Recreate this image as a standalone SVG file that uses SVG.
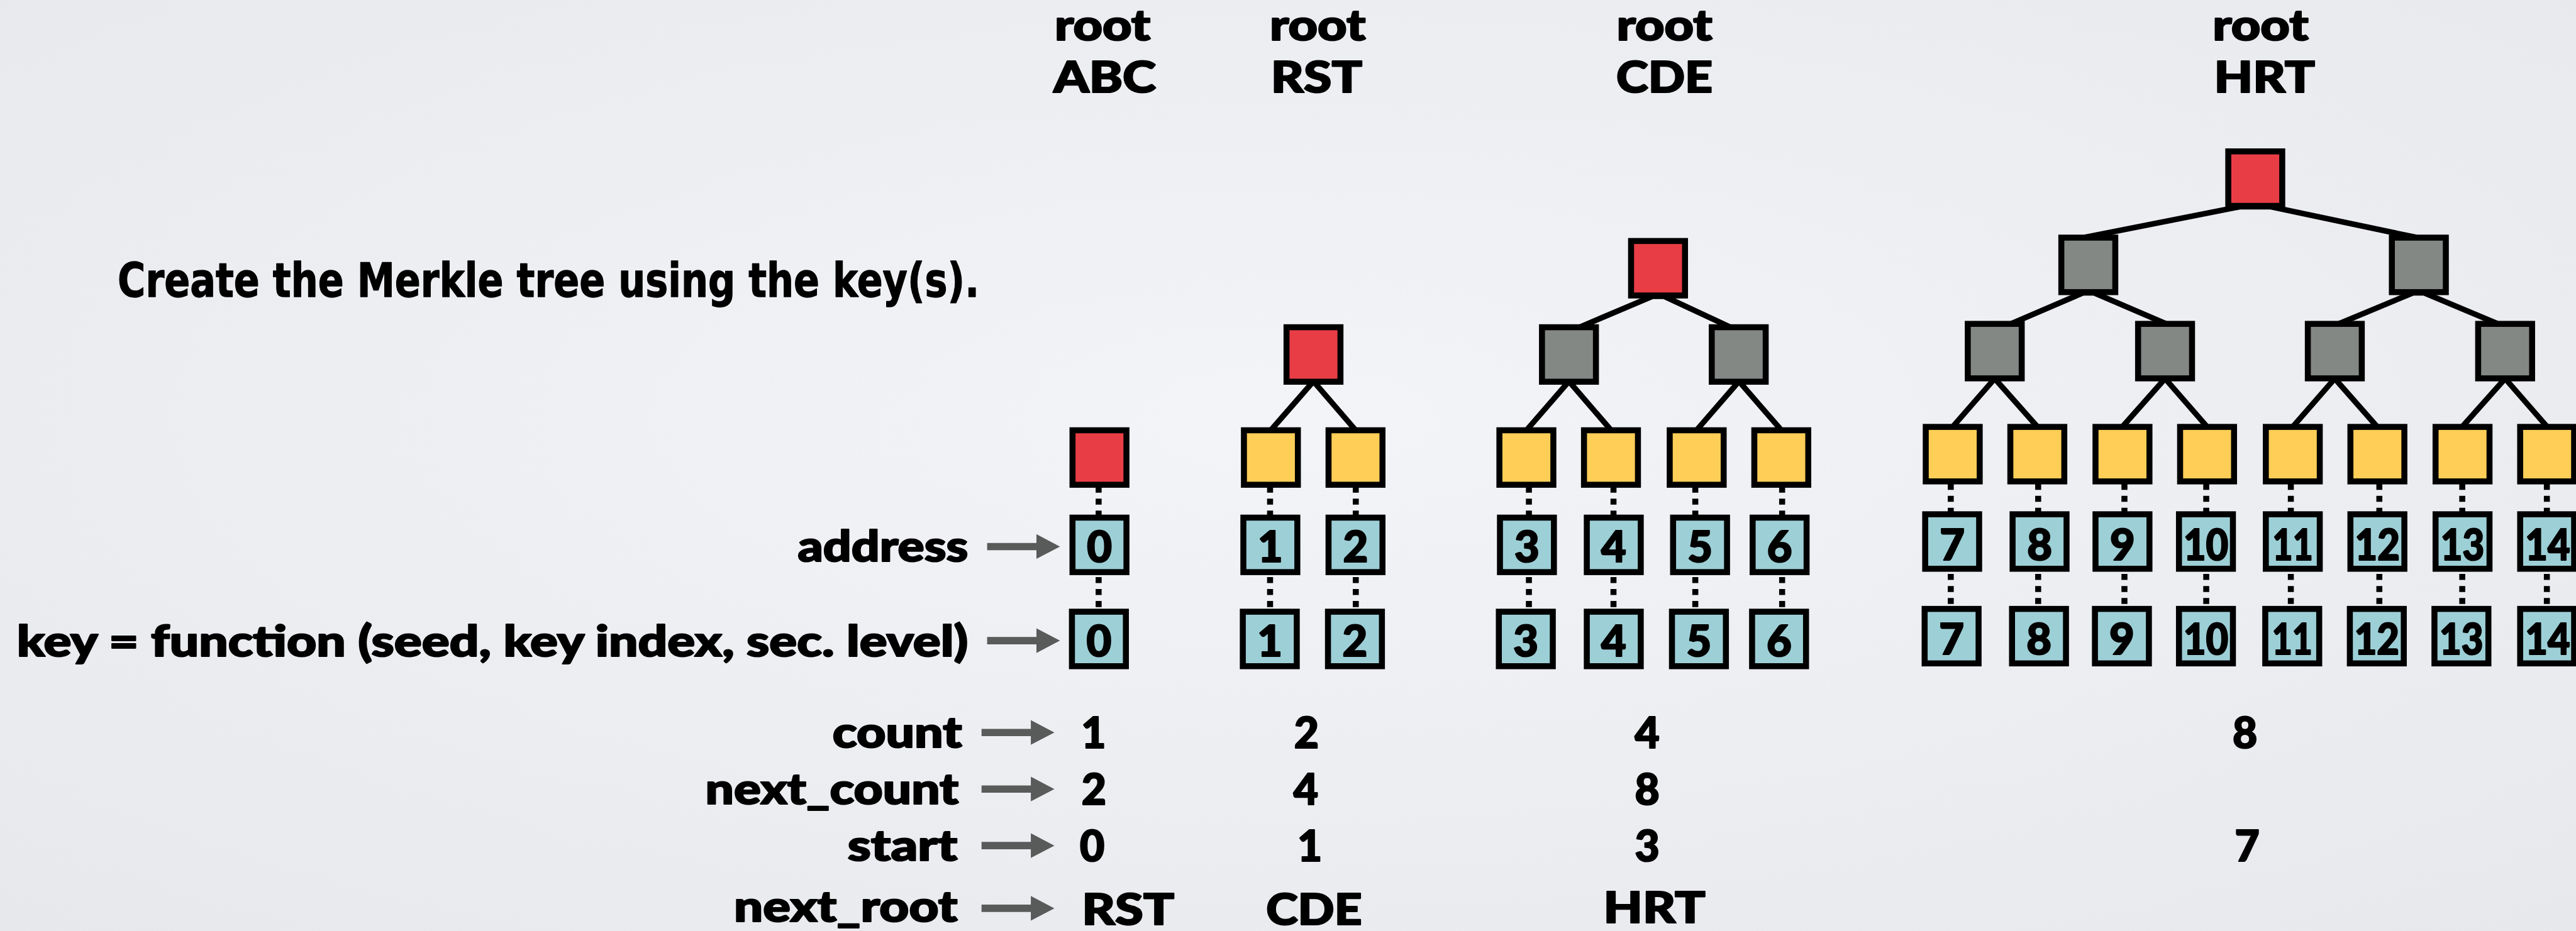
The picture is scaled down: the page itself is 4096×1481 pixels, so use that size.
<svg xmlns="http://www.w3.org/2000/svg" width="4096" height="1481" viewBox="0 0 4096 1481">
<defs>
  <radialGradient id="bg" cx="50%" cy="45%" r="75%">
    <stop offset="0" stop-color="#F3F4F7"/>
    <stop offset="1" stop-color="#E6E8EC"/>
  </radialGradient>
  <path id="arr" d="M0,-6.5 H88 V-22 L130,0 L88,22 V6.5 H0 Z" fill="#585B59"/>
  <style>
    .n{stroke:#000;stroke-width:10.7}
    .r{fill:#E93D45}
    .i{fill:#838885}
    .l{fill:#FFCE57}
    .b{fill:#9DCFD6}
    .e{fill:none;stroke:#000;stroke-width:10;stroke-linejoin:miter;stroke-miterlimit:10}
    .d{stroke:#000;stroke-width:10.7;stroke-dasharray:10.7 10.7}
    .t{font-family:Lato,"Open Sans",sans-serif;font-weight:900;fill:#000;stroke:#000;stroke-width:2.5;stroke-linejoin:round}
    .ti{font-size:76px}
    .lb{font-size:76px}
    .bx{font-size:77px;text-anchor:middle}
    .v{font-size:76px;text-anchor:middle}
    .hd{font-family:"DejaVu Sans",Verdana,sans-serif;font-weight:700;font-size:84px;fill:#000;stroke:#000;stroke-width:1.5;stroke-linejoin:round}
  </style>
</defs>
<rect width="4096" height="1481" fill="url(#bg)"/>
<g transform="scale(0.89082)">

  <!-- headings over each tree -->
  <g id="titles" class="t ti">
    <text x="1882.5" y="72" textLength="171" lengthAdjust="spacingAndGlyphs">root</text>
    <text x="1880.5" y="165" textLength="183" lengthAdjust="spacingAndGlyphs">ABC</text>
    <text x="2266.5" y="72" textLength="171" lengthAdjust="spacingAndGlyphs">root</text>
    <text x="2268.5" y="165" textLength="163" lengthAdjust="spacingAndGlyphs">RST</text>
    <text x="2885.5" y="72" textLength="171" lengthAdjust="spacingAndGlyphs">root</text>
    <text x="2885" y="165" textLength="172" lengthAdjust="spacingAndGlyphs">CDE</text>
    <text x="3949.5" y="72" textLength="171" lengthAdjust="spacingAndGlyphs">root</text>
    <text x="3952" y="165" textLength="180" lengthAdjust="spacingAndGlyphs">HRT</text>
  </g>

  <text id="caption" class="hd" x="210" y="530" textLength="1538" lengthAdjust="spacingAndGlyphs">Create the Merkle tree using the key(s).</text>

  <!-- tree edges, dotted leaf links and label arrows -->
  <g id="connectors">
    <polyline class="e" points="2268.5,768 2344.5,681 2419.5,768"/>
    <polyline class="e" points="2820,584 2950,529 2970,529 3088,584"/>
    <polyline class="e" points="2725,768 2800.5,681 2875.5,768"/>
    <polyline class="e" points="3028.5,768 3104,681 3179.5,768"/>
    <polyline class="e" points="3721,424 3999,369 4052,369 4313,424"/>
    <polyline class="e" points="3590,578 3718,523 3738,523 3866,578"/>
    <polyline class="e" points="4175,578 4307,523 4327,523 4458,578"/>
    <polyline class="e" points="3485.5,762 3560.5,676 3636.5,762"/>
    <polyline class="e" points="3788.5,762 3864.5,676 3939.5,762"/>
    <polyline class="e" points="4092.5,762 4167.5,676 4243,762"/>
    <polyline class="e" points="4395,762 4471.5,676 4546.5,762"/>

    <g class="d">
      <line x1="1961" y1="869" x2="1961" y2="922"/><line x1="1961" y1="1030.5" x2="1961" y2="1089"/>
      <line x1="2267" y1="869" x2="2267" y2="922"/><line x1="2267" y1="1030.5" x2="2267" y2="1089"/>
      <line x1="2420" y1="869" x2="2420" y2="922"/><line x1="2420" y1="1030.5" x2="2420" y2="1089"/>
      <line x1="2729" y1="869" x2="2729" y2="922"/><line x1="2729" y1="1030.5" x2="2729" y2="1089"/>
      <line x1="2880" y1="869" x2="2880" y2="922"/><line x1="2880" y1="1030.5" x2="2880" y2="1089"/>
      <line x1="3026" y1="869" x2="3026" y2="922"/><line x1="3026" y1="1030.5" x2="3026" y2="1089"/>
      <line x1="3181" y1="869" x2="3181" y2="922"/><line x1="3181" y1="1030.5" x2="3181" y2="1089"/>
      <line x1="3482" y1="864" x2="3482" y2="916"/><line x1="3482" y1="1025" x2="3482" y2="1084"/>
      <line x1="3638" y1="864" x2="3638" y2="916"/><line x1="3638" y1="1025" x2="3638" y2="1084"/>
      <line x1="3792" y1="864" x2="3792" y2="916"/><line x1="3792" y1="1025" x2="3792" y2="1084"/>
      <line x1="3938" y1="864" x2="3938" y2="916"/><line x1="3938" y1="1025" x2="3938" y2="1084"/>
      <line x1="4089" y1="864" x2="4089" y2="916"/><line x1="4089" y1="1025" x2="4089" y2="1084"/>
      <line x1="4247" y1="864" x2="4247" y2="916"/><line x1="4247" y1="1025" x2="4247" y2="1084"/>
      <line x1="4395" y1="864" x2="4395" y2="916"/><line x1="4395" y1="1025" x2="4395" y2="1084"/>
      <line x1="4546" y1="864" x2="4546" y2="916"/><line x1="4546" y1="1025" x2="4546" y2="1084"/>
    </g>

    <use href="#arr" x="1762" y="976"/>
    <use href="#arr" x="1762" y="1144"/>
    <use href="#arr" x="1752" y="1308"/>
    <use href="#arr" x="1752" y="1409"/>
    <use href="#arr" x="1752" y="1510"/>
    <use href="#arr" x="1752" y="1622"/>
  </g>

  <!-- tree ABC -->
  <g id="abc-root"><rect class="n r" x="1914.35" y="768.35" width="96.3" height="97.3"/></g>
  <g id="abc-addr-0"><rect class="n b" x="1914.35" y="924.35" width="96.3" height="97.3"/><text class="t bx" x="1962.5" y="1004">0</text></g>
  <g id="abc-key-0"><rect class="n b" x="1913.35" y="1092.35" width="96.3" height="97.3"/><text class="t bx" x="1961.5" y="1172">0</text></g>

  <!-- tree RST -->
  <g id="rst-root"><rect class="n r" x="2296.35" y="584.35" width="96.3" height="97.3"/></g>
  <g id="rst-leaf-1"><rect class="n l" x="2220.35" y="768.35" width="96.3" height="97.3"/></g>
  <g id="rst-leaf-2"><rect class="n l" x="2371.35" y="768.35" width="96.3" height="97.3"/></g>
  <g id="addr-1"><rect class="n b" x="2219.35" y="924.35" width="96.3" height="97.3"/><text class="t bx" x="2267.5" y="1004">1</text></g>
  <g id="addr-2"><rect class="n b" x="2371.35" y="924.35" width="96.3" height="97.3"/><text class="t bx" x="2419.5" y="1004">2</text></g>
  <g id="key-1"><rect class="n b" x="2218.35" y="1092.35" width="96.3" height="97.3"/><text class="t bx" x="2266.5" y="1172">1</text></g>
  <g id="key-2"><rect class="n b" x="2370.35" y="1092.35" width="96.3" height="97.3"/><text class="t bx" x="2418.5" y="1172">2</text></g>

  <!-- tree CDE -->
  <g id="cde-root"><rect class="n r" x="2911.35" y="430.35" width="96.3" height="97.3"/></g>
  <g id="cde-inner-1"><rect class="n i" x="2752.35" y="584.35" width="96.3" height="97.3"/></g>
  <g id="cde-inner-2"><rect class="n i" x="3055.35" y="584.35" width="96.3" height="97.3"/></g>
  <g id="cde-leaf-3"><rect class="n l" x="2676.35" y="768.35" width="96.3" height="97.3"/></g>
  <g id="cde-leaf-4"><rect class="n l" x="2827.35" y="768.35" width="96.3" height="97.3"/></g>
  <g id="cde-leaf-5"><rect class="n l" x="2980.35" y="768.35" width="96.3" height="97.3"/></g>
  <g id="cde-leaf-6"><rect class="n l" x="3131.35" y="768.35" width="96.3" height="97.3"/></g>
  <g id="addr-3"><rect class="n b" x="2677.35" y="924.35" width="96.3" height="97.3"/><text class="t bx" x="2725.5" y="1004">3</text></g>
  <g id="addr-4"><rect class="n b" x="2832.35" y="924.35" width="96.3" height="97.3"/><text class="t bx" x="2880.5" y="1004">4</text></g>
  <g id="addr-5"><rect class="n b" x="2986.35" y="924.35" width="96.3" height="97.3"/><text class="t bx" x="3034.5" y="1004">5</text></g>
  <g id="addr-6"><rect class="n b" x="3128.35" y="924.35" width="96.3" height="97.3"/><text class="t bx" x="3176.5" y="1004">6</text></g>
  <g id="key-3"><rect class="n b" x="2675.35" y="1092.35" width="96.3" height="97.3"/><text class="t bx" x="2723.5" y="1172">3</text></g>
  <g id="key-4"><rect class="n b" x="2832.35" y="1092.35" width="96.3" height="97.3"/><text class="t bx" x="2880.5" y="1172">4</text></g>
  <g id="key-5"><rect class="n b" x="2984.35" y="1092.35" width="96.3" height="97.3"/><text class="t bx" x="3032.5" y="1172">5</text></g>
  <g id="key-6"><rect class="n b" x="3127.35" y="1092.35" width="96.3" height="97.3"/><text class="t bx" x="3175.5" y="1172">6</text></g>

  <!-- tree HRT -->
  <g id="hrt-root"><rect class="n r" x="3977.35" y="270.35" width="96.3" height="97.3"/></g>
  <g id="hrt-inner-a"><rect class="n i" x="3679.35" y="424.35" width="96.3" height="97.3"/></g>
  <g id="hrt-inner-b"><rect class="n i" x="4269.35" y="424.35" width="96.3" height="97.3"/></g>
  <g id="hrt-inner-c"><rect class="n i" x="3512.35" y="578.35" width="96.3" height="97.3"/></g>
  <g id="hrt-inner-d"><rect class="n i" x="3816.35" y="578.35" width="96.3" height="97.3"/></g>
  <g id="hrt-inner-e"><rect class="n i" x="4119.35" y="578.35" width="96.3" height="97.3"/></g>
  <g id="hrt-inner-f"><rect class="n i" x="4423.35" y="578.35" width="96.3" height="97.3"/></g>
  <g id="hrt-leaf-7"><rect class="n l" x="3437.35" y="762.35" width="96.3" height="97.3"/></g>
  <g id="hrt-leaf-8"><rect class="n l" x="3588.35" y="762.35" width="96.3" height="97.3"/></g>
  <g id="hrt-leaf-9"><rect class="n l" x="3740.35" y="762.35" width="96.3" height="97.3"/></g>
  <g id="hrt-leaf-10"><rect class="n l" x="3891.35" y="762.35" width="96.3" height="97.3"/></g>
  <g id="hrt-leaf-11"><rect class="n l" x="4044.35" y="762.35" width="96.3" height="97.3"/></g>
  <g id="hrt-leaf-12"><rect class="n l" x="4195.35" y="762.35" width="96.3" height="97.3"/></g>
  <g id="hrt-leaf-13"><rect class="n l" x="4347.35" y="762.35" width="96.3" height="97.3"/></g>
  <g id="hrt-leaf-14"><rect class="n l" x="4498.35" y="762.35" width="96.3" height="97.3"/></g>
  <g id="addr-7"><rect class="n b" x="3436.35" y="918.35" width="96.3" height="97.3"/><text class="t bx" x="3484.5" y="1000">7</text></g>
  <g id="addr-8"><rect class="n b" x="3592.35" y="918.35" width="96.3" height="97.3"/><text class="t bx" x="3640.5" y="1000">8</text></g>
  <g id="addr-9"><rect class="n b" x="3740.35" y="918.35" width="96.3" height="97.3"/><text class="t bx" x="3788.5" y="1000">9</text></g>
  <g id="addr-10"><rect class="n b" x="3889.35" y="918.35" width="96.3" height="97.3"/><text class="t bx" x="3937.5" y="1000" textLength="80" lengthAdjust="spacingAndGlyphs">10</text></g>
  <g id="addr-11"><rect class="n b" x="4044.35" y="918.35" width="96.3" height="97.3"/><text class="t bx" x="4092.5" y="1000" textLength="72" lengthAdjust="spacingAndGlyphs">11</text></g>
  <g id="addr-12"><rect class="n b" x="4195.35" y="918.35" width="96.3" height="97.3"/><text class="t bx" x="4243.5" y="1000" textLength="80" lengthAdjust="spacingAndGlyphs">12</text></g>
  <g id="addr-13"><rect class="n b" x="4347.35" y="918.35" width="96.3" height="97.3"/><text class="t bx" x="4395.5" y="1000" textLength="78" lengthAdjust="spacingAndGlyphs">13</text></g>
  <g id="addr-14"><rect class="n b" x="4498.35" y="918.35" width="96.3" height="97.3"/><text class="t bx" x="4547.5" y="1000" textLength="80" lengthAdjust="spacingAndGlyphs">14</text></g>
  <g id="key-7"><rect class="n b" x="3435.35" y="1087.35" width="96.3" height="97.3"/><text class="t bx" x="3483.5" y="1169">7</text></g>
  <g id="key-8"><rect class="n b" x="3591.35" y="1087.35" width="96.3" height="97.3"/><text class="t bx" x="3639.5" y="1169">8</text></g>
  <g id="key-9"><rect class="n b" x="3739.35" y="1087.35" width="96.3" height="97.3"/><text class="t bx" x="3787.5" y="1169">9</text></g>
  <g id="key-10"><rect class="n b" x="3889.35" y="1087.35" width="96.3" height="97.3"/><text class="t bx" x="3937.5" y="1169" textLength="80" lengthAdjust="spacingAndGlyphs">10</text></g>
  <g id="key-11"><rect class="n b" x="4043.35" y="1087.35" width="96.3" height="97.3"/><text class="t bx" x="4091.5" y="1169" textLength="72" lengthAdjust="spacingAndGlyphs">11</text></g>
  <g id="key-12"><rect class="n b" x="4194.35" y="1087.35" width="96.3" height="97.3"/><text class="t bx" x="4242.5" y="1169" textLength="80" lengthAdjust="spacingAndGlyphs">12</text></g>
  <g id="key-13"><rect class="n b" x="4345.35" y="1087.35" width="96.3" height="97.3"/><text class="t bx" x="4393.5" y="1169" textLength="78" lengthAdjust="spacingAndGlyphs">13</text></g>
  <g id="key-14"><rect class="n b" x="4498.35" y="1087.35" width="96.3" height="97.3"/><text class="t bx" x="4547.5" y="1169" textLength="80" lengthAdjust="spacingAndGlyphs">14</text></g>

  <!-- row labels -->
  <g id="labels" class="t lb">
    <text x="1424" y="1003" textLength="304" lengthAdjust="spacingAndGlyphs">address</text>
    <text x="30" y="1171.5" textLength="1698" lengthAdjust="spacingAndGlyphs">key = function (seed, key index, sec. level)</text>
    <text x="1486" y="1335" textLength="231" lengthAdjust="spacingAndGlyphs">count</text>
    <text x="1259" y="1436" textLength="452" lengthAdjust="spacingAndGlyphs">next_count</text>
    <text x="1513" y="1537" textLength="196" lengthAdjust="spacingAndGlyphs">start</text>
    <text x="1310" y="1646" textLength="399" lengthAdjust="spacingAndGlyphs">next_root</text>
  </g>

  <!-- per-tree values -->
  <g id="values" class="t v">
    <text x="1952" y="1336">1</text>
    <text x="2332" y="1336">2</text>
    <text x="2940" y="1336">4</text>
    <text x="4007" y="1336">8</text>
    <text x="1952.5" y="1437">2</text>
    <text x="2331" y="1437">4</text>
    <text x="2940" y="1437">8</text>
    <text x="1949.5" y="1538">0</text>
    <text x="2338" y="1538">1</text>
    <text x="2940" y="1538">3</text>
    <text x="4011" y="1538">7</text>
    <text x="2013.5" y="1651" textLength="165" lengthAdjust="spacingAndGlyphs">RST</text>
    <text x="2345.5" y="1651" textLength="171" lengthAdjust="spacingAndGlyphs">CDE</text>
    <text x="2953" y="1648" textLength="182" lengthAdjust="spacingAndGlyphs">HRT</text>
  </g>
</g>
</svg>
